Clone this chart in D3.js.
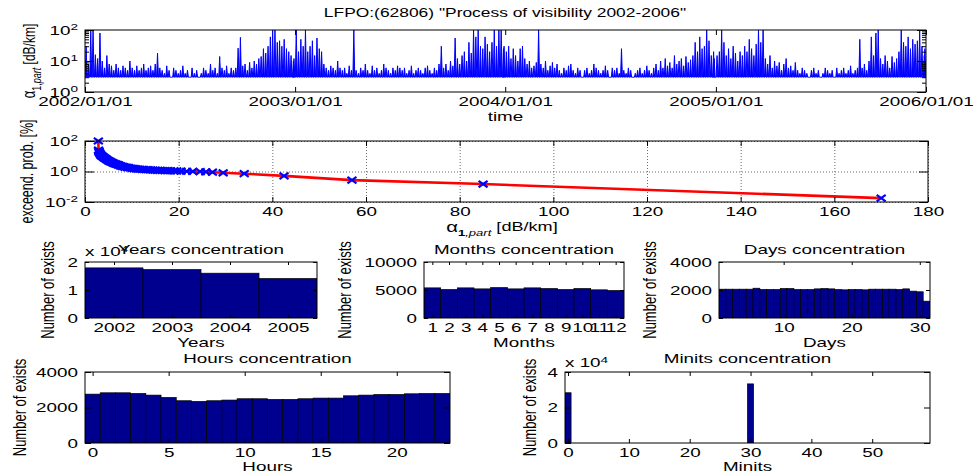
<!DOCTYPE html>
<html><head><meta charset="utf-8">
<script src="https://cdn.jsdelivr.net/npm/d3@7"></script>
<style>
body{margin:0;background:#fff}
svg{display:block;background:#fff}
</style>
</head><body>
<svg id="c" width="977" height="475"></svg>
<script>
// ---------------- DATA ----------------
const chartTitle = 'LFPO:(62806) "Process of visibility 2002-2006"';
const timeTickLabels = ["2002/01/01","2003/01/01","2004/01/01","2005/01/01","2006/01/01"];
const seriesYears = [2002, 2003, 2004, 2005];
const alphaBaseline = 3;
// 4-day peak values of alpha_1,part [dB/km]
const alpha2002 = [30,8,100,100,16,12,80,10,6,15,8,7,5,8,6,5,7,6,5,10,6,5,7,5,6,8,5,6,7,5,8,18,6,5,4,7,5,3,6,5,4,5,7,4,5,3,6,4,5,3,4,6,5,4,8,5,6,4,14,6,5,7,4,6,5,6,26,58,7,8,5,9,6,10,8,12,14,25,18,30,60,100,100,40,45,30,50,25,20,15,10,12];
const alpha2003 = [100,20,50,30,100,20,30,45,15,55,25,20,8,6,5,7,6,5,10,6,5,6,4,7,5,100,5,4,6,5,8,5,4,7,5,6,4,5,8,6,5,4,6,5,7,6,5,6,4,5,7,4,5,6,5,4,6,7,5,4,6,5,8,30,6,8,5,10,7,55,12,8,15,20,10,40,18,100,60,100,30,25,60,35,20,40,100,30,100,100,25,30];
const alpha2004 = [20,30,12,25,15,10,25,30,12,8,10,6,7,9,100,8,6,10,5,7,9,6,8,5,4,6,5,7,8,5,4,6,5,3,5,6,4,5,8,6,5,4,5,7,5,3,6,5,6,4,25,5,4,6,5,3,4,5,6,4,5,7,5,4,6,8,5,10,6,12,7,9,6,15,8,10,12,7,14,9,11,15,40,20,60,25,30,100,45,15,20,12];
const alpha2005 = [15,20,100,40,15,25,12,30,18,10,20,15,30,20,50,25,15,35,100,40,100,12,8,15,6,10,7,9,5,8,12,6,7,5,9,5,4,6,5,4,3,5,6,4,5,3,4,6,5,4,5,3,6,4,5,6,4,5,7,4,5,6,50,6,8,5,10,60,15,80,100,12,8,15,10,6,14,9,12,20,100,40,30,60,25,50,35,45,100,30,15,25];
const alphaTicks = [1, 10, 100];

// exceedance probability
const exceedAlpha = [2.85,2.9,2.95,3.0,3.05,3.1,3.2,3.3,3.4,3.5,3.6,3.7,3.85,4.0,4.15,4.3,4.5,4.6,4.8,5.0,5.2,5.4,5.6,5.8,6.0,6.2,6.5,6.7,7.0,7.2,7.5,7.7,8.0,8.3,8.6,9.0,9.3,9.7,10.1,10.5,10.9,11.3,11.7,12.2,12.6,13.1,13.5,14.0,14.5,15.0,15.5,16.0,16.5,17.1,17.7,18.3,19.0,19.6,20.5,21.7,23.0,24.6,25.8,27.2,29.5,34.0,42.5,57.0,85.0,170.0];
const exceedProb  = [100,25,22,20,18,17,15,13,12,11,10.5,10,9.2,8.5,7.8,7.2,6.6,6.2,5.7,5.2,4.8,4.5,4.2,3.9,3.6,3.4,3.2,3.0,2.8,2.6,2.45,2.3,2.15,2.05,1.95,1.85,1.78,1.7,1.62,1.55,1.5,1.45,1.41,1.38,1.35,1.32,1.3,1.27,1.24,1.22,1.2,1.18,1.16,1.15,1.13,1.12,1.1,1.09,1.07,1.04,1.01,0.98,0.95,0.9,0.82,0.72,0.52,0.27,0.15,0.018];
const exceedXTicks = [0,20,40,60,80,100,120,140,160,180];
const exceedYTicks = [0.01, 1, 100];

// concentrations
const yearsCat = [2002, 2003, 2004, 2005];
const yearsCount = [17900, 17300, 16000, 14100];
const monthsCat = [1,2,3,4,5,6,7,8,9,10,11,12];
const monthsCount = [5380,5090,5380,5200,5430,5200,5380,5260,5090,5260,5030,4910];
const daysCat = [1,2,3,4,5,6,7,8,9,10,11,12,13,14,15,16,17,18,19,20,21,22,23,24,25,26,27,28,29,30,31];
const daysCount = [2058,2058,2058,2058,2058,2127,2035,2035,2035,2104,2104,2035,2035,2035,2081,2104,2081,2035,2012,2035,2035,2012,2058,2058,2058,2058,2035,2081,1919,1873,1202];
const hoursCat = [0,1,2,3,4,5,6,7,8,9,10,11,12,13,14,15,16,17,18,19,20,21,22,23];
const hoursCount = [2753,2828,2828,2791,2698,2567,2381,2344,2381,2419,2493,2493,2456,2456,2493,2530,2530,2660,2698,2735,2735,2772,2791,2791];
const minitsCat = [0, 30];
const minitsCount = [28300, 33300];

// ---------------- DRAWING ----------------
const FONT = '"Liberation Sans", Arial, Helvetica, sans-serif';
const FS = 13;
const SX = 1.45;
const BLUE = "#0000ff", RED = "#ff0000", BAR = "#00008f";
const svg = d3.select("#c").attr("font-family", FONT);

function styleAxis(g){
  g.attr("font-size", FS).attr("font-family", FONT);
  g.select(".domain").remove();
  g.selectAll("line").attr("stroke", "#000");
  g.selectAll("text").attr("fill", "#000");
}
function supLabels(g){
  g.selectAll(".tick text").each(function(d){
    const t = d3.select(this);
    const e = Math.round(Math.log10(d));
    t.text(null);
    t.append("tspan").text("10");
    t.append("tspan").attr("dy", "-0.45em").attr("font-size", "0.72em").text(String(e));
  });
}
function box(p){
  svg.append("rect").attr("x", p.l).attr("y", p.t).attr("width", p.r - p.l).attr("height", p.b - p.t)
    .attr("fill", "none").attr("stroke", "#000").attr("stroke-width", 1);
}
function hLabel(x, y, txt, size, anchor){
  return svg.append("text").attr("class","h").attr("x", x).attr("y", y).attr("font-size", size || FS)
    .attr("text-anchor", anchor || "middle").text(txt);
}
function vLabel(cx, cy, txt, size){
  return svg.append("text").attr("class","rot")
    .attr("transform", `translate(${cx},${cy}) scale(${SX},1) rotate(-90)`)
    .attr("font-size", size || FS).attr("text-anchor", "middle").attr("dy", "0.35em").text(txt);
}

// ---- Panel 1 : time series ----
const P1 = {l:85, r:926, t:30, b:92};
const x1 = d3.scaleUtc().domain([new Date(Date.UTC(2002,0,1)), new Date(Date.UTC(2006,0,1))]).range([P1.l, P1.r]);
const y1 = d3.scaleLog().domain([1,100]).range([P1.b, P1.t]);
const timeTicks = timeTickLabels.map(s => { const [Y,M,D] = s.split("/").map(Number); return new Date(Date.UTC(Y, M-1, D)); });
const seriesVals = [alpha2002, alpha2003, alpha2004, alpha2005];
const DAY = 86400000;
const pts = [];
pts.push({d: x1.domain()[0], v: alphaBaseline});
seriesYears.forEach((yr, k) => {
  seriesVals[k].forEach((v, i) => {
    const t = Date.UTC(yr, 0, 1) + Math.min(4*i + 2, 363) * DAY;
    pts.push({d: new Date(t - 1.6*DAY), v: alphaBaseline});
    pts.push({d: new Date(t), v: v});
    pts.push({d: new Date(t + 1.6*DAY), v: alphaBaseline});
  });
});
pts.push({d: x1.domain()[1], v: alphaBaseline});
svg.append("clipPath").attr("id","cp1").append("rect").attr("x",P1.l).attr("y",P1.t).attr("width",P1.r-P1.l).attr("height",P1.b-P1.t);
svg.append("path").datum(pts).attr("clip-path","url(#cp1)")
  .attr("d", d3.line().x(d => x1(d.d)).y(d => y1(d.v)))
  .attr("fill",BLUE).attr("stroke", BLUE).attr("stroke-width", 1);

const minorLog = [2,3,4,5,6,7,8,9,20,30,40,50,60,70,80,90];
svg.append("g").attr("transform",`translate(0,${P1.b})`)
  .call(d3.axisBottom(x1).tickValues(timeTicks).tickFormat((d,i)=>timeTickLabels[i]).tickSize(-5).tickPadding(5)).call(styleAxis);
svg.append("g").attr("transform",`translate(0,${P1.t})`)
  .call(d3.axisTop(x1).tickValues(timeTicks).tickFormat("").tickSize(-5)).call(styleAxis);
svg.append("g").attr("transform",`translate(${P1.l},0)`)
  .call(d3.axisLeft(y1).tickValues(alphaTicks).tickSize(-9).tickPadding(7)).call(styleAxis).call(supLabels);
svg.append("g").attr("transform",`translate(${P1.r},0)`)
  .call(d3.axisRight(y1).tickValues(alphaTicks).tickFormat("").tickSize(-9)).call(styleAxis);
svg.append("g").attr("transform",`translate(${P1.l},0)`)
  .call(d3.axisLeft(y1).tickValues(minorLog).tickFormat("").tickSize(-4)).call(styleAxis);
svg.append("g").attr("transform",`translate(${P1.r},0)`)
  .call(d3.axisRight(y1).tickValues(minorLog).tickFormat("").tickSize(-4)).call(styleAxis);
box(P1);
hLabel(505, 17, chartTitle, 12);
hLabel((P1.l+P1.r)/2, 121, "time");
{
  const t = svg.append("text").attr("class","rot")
    .attr("transform", `translate(29,${(P1.t+P1.b)/2}) scale(${SX},1) rotate(-90)`)
    .attr("font-size", 12).attr("text-anchor","middle").attr("dy","0.35em");
  t.append("tspan").attr("font-size", 13).text("α");
  t.append("tspan").attr("font-size", 9).attr("dy","0.45em").text("1,");
  t.append("tspan").attr("font-size", 9).attr("font-style","italic").text("part");
  t.append("tspan").attr("dy","-0.35em").text(" [dB/km]");
}

// ---- Panel 2 : exceedance probability ----
const P2 = {l:85, r:928, t:141, b:202};
const x2 = d3.scaleLinear().domain([0,180]).range([P2.l, P2.r]);
const y2 = d3.scaleLog().domain([0.01,100]).range([P2.b, P2.t]);
// grid
svg.append("g").attr("transform",`translate(0,${P2.b})`)
  .call(d3.axisBottom(x2).tickValues(exceedXTicks).tickFormat("").tickSize(-(P2.b-P2.t))).call(styleAxis)
  .selectAll("line").attr("stroke","#444").attr("stroke-dasharray","1,2").attr("stroke-width",0.8);
svg.append("g").attr("transform",`translate(${P2.l},0)`)
  .call(d3.axisLeft(y2).tickValues(exceedYTicks).tickFormat("").tickSize(-(P2.r-P2.l))).call(styleAxis)
  .selectAll("line").attr("stroke","#444").attr("stroke-dasharray","1,2").attr("stroke-width",0.8);
const ex = exceedAlpha.map((a,i)=>({a, p: exceedProb[i]}));
svg.append("path").datum(ex).attr("d", d3.line().x(d=>x2(d.a)).y(d=>y2(d.p)))
  .attr("fill","none").attr("stroke",RED).attr("stroke-width",2.6);
svg.append("g").selectAll("path").data(ex).join("path")
  .attr("transform", d=>`translate(${x2(d.a)},${y2(d.p)})`)
  .attr("d","M-4.5,-3.2L4.5,3.2M-4.5,3.2L4.5,-3.2")
  .attr("stroke",BLUE).attr("stroke-width",2.2).attr("fill","none");
svg.append("g").attr("transform",`translate(0,${P2.b})`)
  .call(d3.axisBottom(x2).tickValues(exceedXTicks).tickSize(-5).tickPadding(5)).call(styleAxis);
svg.append("g").attr("transform",`translate(0,${P2.t})`)
  .call(d3.axisTop(x2).tickValues(exceedXTicks).tickFormat("").tickSize(-5)).call(styleAxis);
svg.append("g").attr("transform",`translate(${P2.l},0)`)
  .call(d3.axisLeft(y2).tickValues(exceedYTicks).tickSize(-9).tickPadding(7)).call(styleAxis).call(supLabels);
svg.append("g").attr("transform",`translate(${P2.r},0)`)
  .call(d3.axisRight(y2).tickValues(exceedYTicks).tickFormat("").tickSize(-9)).call(styleAxis);
box(P2);
vLabel(27, (P2.t+P2.b)/2, "exceend. prob. [%]", 12.5);
{
  const t = svg.append("text").attr("class","h").attr("x", 502).attr("y", 232)
    .attr("font-size", 12.5).attr("text-anchor","middle");
  t.append("tspan").attr("font-size",14).text("α");
  t.append("tspan").attr("font-size",9).attr("font-weight","bold").attr("dy","0.4em").text("1");
  t.append("tspan").attr("font-size",9).attr("font-style","italic").text(",part");
  t.append("tspan").attr("dy","-0.4em").text(" [dB/km]");
}

// ---- bar panels ----
function barPanel(o){
  const x = d3.scaleLinear().domain(o.xd).range([o.l, o.r]);
  const y = d3.scaleLinear().domain(o.yd).range([o.b, o.t]);
  const id = "cp" + o.name;
  svg.append("clipPath").attr("id", id).append("rect").attr("x",o.l).attr("y",o.t).attr("width",o.r-o.l).attr("height",o.b-o.t);
  svg.append("g").attr("clip-path",`url(#${id})`).selectAll("rect")
    .data(o.cats.map((c,i)=>({c, v:o.vals[i]}))).join("rect")
    .attr("x", d => x(d.c - 0.5)).attr("width", d => x(d.c + 0.5) - x(d.c - 0.5))
    .attr("y", d => y(d.v)).attr("height", d => y(0) - y(d.v))
    .attr("fill", BAR).attr("stroke", "#000").attr("stroke-width", 0.7);
  svg.append("g").attr("transform",`translate(0,${o.b})`)
    .call(d3.axisBottom(x).tickValues(o.xt).tickFormat(d=>String(d)).tickSize(-o.tx).tickPadding(5)).call(styleAxis);
  svg.append("g").attr("transform",`translate(0,${o.t})`)
    .call(d3.axisTop(x).tickValues(o.xt).tickFormat("").tickSize(-o.tx)).call(styleAxis);
  svg.append("g").attr("transform",`translate(${o.l},0)`)
    .call(d3.axisLeft(y).tickValues(o.yt).tickFormat(o.yf).tickSize(-o.ty).tickPadding(7)).call(styleAxis);
  svg.append("g").attr("transform",`translate(${o.r},0)`)
    .call(d3.axisRight(y).tickValues(o.yt).tickFormat("").tickSize(-o.ty)).call(styleAxis);
  box(o);
  if (o.exp) {
    const t = svg.append("text").attr("class","h").attr("x", o.l).attr("y", o.expY).attr("font-size", FS).attr("text-anchor","start");
    t.append("tspan").text("x 10");
    t.append("tspan").attr("dy","-0.45em").attr("font-size","0.72em").text("4");
  }
  hLabel((o.l+o.r)/2, o.titleY, o.title);
  hLabel((o.l+o.r)/2, o.xlabY, o.xlab);
  vLabel(o.ylabX, (o.t+o.b)/2, "Number of exists");
}
const fmt1e4 = d => String(d/10000);
barPanel({name:"y", l:85, r:317, t:262, b:318, xd:[2001.5,2005.5], yd:[0,20000], cats:yearsCat, vals:yearsCount,
  xt:yearsCat, yt:[0,10000,20000], yf:fmt1e4, tx:3, ty:4, exp:true, expY:256,
  title:"Years concentration", titleY:254, xlab:"Years", xlabY:347, ylabX:47});
barPanel({name:"m", l:424, r:624, t:262, b:318, xd:[0.5,12.5], yd:[0,10000], cats:monthsCat, vals:monthsCount,
  xt:monthsCat, yt:[0,5000,10000], yf:d=>String(d), tx:3, ty:4,
  title:"Months concentration", titleY:254, xlab:"Months", xlabY:347, ylabX:344});
barPanel({name:"d", l:719, r:930, t:262, b:318, xd:[0.5,31.5], yd:[0,4000], cats:daysCat, vals:daysCount,
  xt:[10,20,30], yt:[0,2000,4000], yf:d=>String(d), tx:3, ty:4,
  title:"Days concentration", titleY:254, xlab:"Days", xlabY:347, ylabX:649});
barPanel({name:"h", l:85, r:450, t:372, b:443, xd:[-0.5,23.5], yd:[0,4000], cats:hoursCat, vals:hoursCount,
  xt:[0,5,10,15,20], yt:[0,2000,4000], yf:d=>String(d), tx:4, ty:6,
  title:"Hours concentration", titleY:363, xlab:"Hours", xlabY:471, ylabX:19});
barPanel({name:"n", l:565, r:930, t:372, b:443, xd:[-0.5,59.5], yd:[0,40000], cats:minitsCat, vals:minitsCount,
  xt:[0,10,20,30,40,50], yt:[0,20000,40000], yf:fmt1e4, tx:4, ty:6, exp:true, expY:367,
  title:"Minits concentration", titleY:363, xlab:"Minits", xlabY:471, ylabX:529});

// horizontal stretch of all horizontal text (the reference is horizontally stretched)
svg.selectAll("text:not(.rot)").each(function(){
  const x = +(this.getAttribute("x") || 0);
  this.setAttribute("transform", `translate(${x},0) scale(${SX},1) translate(${-x},0)`);
});
</script>
</body></html>
